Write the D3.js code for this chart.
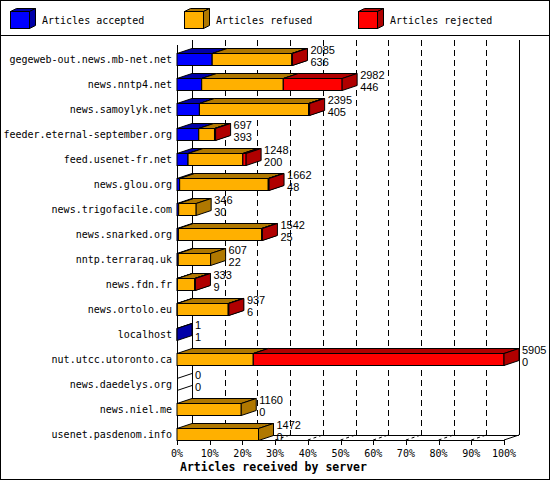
<!DOCTYPE html>
<html><head><meta charset="utf-8">
<script src="https://cdn.jsdelivr.net/npm/d3@7"></script>
<style>body{margin:0;background:#fff}svg{display:block}</style>
</head><body>
<script>
const categories = ["gegeweb-out.news.mb-net.net","news.nntp4.net","news.samoylyk.net","feeder.eternal-september.org","feed.usenet-fr.net","news.glou.org","news.trigofacile.com","news.snarked.org","nntp.terraraq.uk","news.fdn.fr","news.ortolo.eu","localhost","nut.utcc.utoronto.ca","news.daedelys.org","news.niel.me","usenet.pasdenom.info"];
const accepted = [636,446,405,393,200,48,30,25,22,9,6,1,0,0,0,0];
const refused  = [1439,1474,1970,284,990,1601,316,1504,585,309,920,0,1378,0,1160,1472];
const rejected = [10,1062,20,20,58,13,0,13,0,15,11,0,4527,0,0,0];
const totals   = [2085,2982,2395,697,1248,1662,346,1542,607,333,937,1,5905,0,1160,1472];
const seriesNames = ["Articles accepted","Articles refused","Articles rejected"];
const pctTicks = [0,10,20,30,40,50,60,70,80,90,100];
const axisTitle = "Articles received by server";

const W=550,H=480;
const front = ["#0000ff","#ffb000","#ff0000"];
const dark  = ["#0000a8","#b07800","#b00000"];
const DX=15, DY=5;
const mono = "'DejaVu Sans Mono', monospace";

const svg = d3.select("body").append("svg").attr("width",W).attr("height",H);
svg.append("rect").attr("x",0.5).attr("y",0.5).attr("width",W-1).attr("height",H-1).attr("fill","#fff").attr("stroke","#000");
svg.append("line").attr("x1",0).attr("x2",W).attr("y1",35.5).attr("y2",35.5).attr("stroke","#000");

const x = d3.scaleLinear().domain([0, d3.max(totals)]).range([177, 504]);
const xp = d3.scaleLinear().domain([0,100]).range([177, 504]);
const y = d3.scaleBand().domain(categories).range([47,447]).paddingInner(0.52).paddingOuter(0.26);
const bh = y.bandwidth();
const yTop = 40, yFloor = 440;

// back wall grid
const g = svg.append("g").attr("shape-rendering","crispEdges");
g.selectAll("line.grid").data(pctTicks.slice(1,-1)).join("line")
  .attr("x1",d=>Math.round(xp(d)+DX)+0.5).attr("x2",d=>Math.round(xp(d)+DX)+0.5)
  .attr("y1",yTop).attr("y2",yFloor-DY).attr("stroke","#000").attr("stroke-dasharray","6,4");
// back wall edges
[0,100].forEach(v=>{
  g.append("line").attr("x1",Math.round(xp(v)+DX)+0.5).attr("x2",Math.round(xp(v)+DX)+0.5)
   .attr("y1",yTop).attr("y2",yFloor-DY).attr("stroke","#000");
});
g.append("line").attr("x1",xp(0)+DX).attr("x2",xp(100)+DX).attr("y1",yFloor-DY+0.5).attr("y2",yFloor-DY+0.5).attr("stroke","#000");
// floor diagonals
svg.selectAll("line.fd").data(pctTicks.slice(1)).join("line")
  .attr("x1",d=>xp(d)).attr("y1",yFloor).attr("x2",d=>xp(d)+DX).attr("y2",yFloor-DY)
  .attr("stroke","#000").attr("stroke-dasharray",d=>d===100?null:"3,3");
// front axis
g.append("line").attr("x1",177.5).attr("x2",177.5).attr("y1",yTop+5).attr("y2",yFloor).attr("stroke","#000");
g.append("line").attr("x1",xp(0)).attr("x2",xp(100)).attr("y1",yFloor+0.5).attr("y2",yFloor+0.5).attr("stroke","#000");
g.selectAll("line.tk").data(pctTicks).join("line")
  .attr("x1",d=>Math.round(xp(d))+0.5).attr("x2",d=>Math.round(xp(d))+0.5)
  .attr("y1",yFloor).attr("y2",yFloor+5).attr("stroke","#000");
svg.selectAll("text.tk").data(pctTicks).join("text")
  .attr("x",d=>xp(d)).attr("y",457).attr("text-anchor","middle")
  .attr("font-family",mono).attr("font-size",10).text(d=>d+"%");
svg.append("text").attr("x",180).attr("y",471).attr("font-family",mono).attr("font-size",11.5)
  .attr("font-weight","bold").text(axisTitle);

// category labels
svg.selectAll("text.cat").data(categories).join("text")
  .attr("x",172).attr("y",d=>y(d)+bh/2).attr("dy","0.35em").attr("text-anchor","end")
  .attr("font-family",mono).attr("font-size",10).text(d=>d);

// bars
function box(gr,x0,x1,yy,ci){
  gr.append("rect").attr("x",x0).attr("y",yy).attr("width",Math.max(0,x1-x0)).attr("height",bh)
    .attr("fill",front[ci]).attr("stroke","#000");
  gr.append("polygon").attr("points",[[x0,yy],[x0+DX,yy-DY],[x1+DX,yy-DY],[x1,yy]].join(" "))
    .attr("fill",dark[ci]).attr("stroke","#000");
  gr.append("polygon").attr("points",[[x1,yy],[x1+DX,yy-DY],[x1+DX,yy+bh-DY],[x1,yy+bh]].join(" "))
    .attr("fill",dark[ci]).attr("stroke","#000");
}
const bars = svg.append("g").attr("stroke-linejoin","miter");
categories.forEach((c,i)=>{
  const yy = y(c);
  const gr = bars.append("g");
  const vals=[accepted[i],refused[i],rejected[i]];
  let cum=0;
  if(totals[i]===0){
    gr.append("line").attr("x1",x(0)).attr("y1",yy).attr("x2",x(0)+DX).attr("y2",yy-DY).attr("stroke","#000");
    gr.append("line").attr("x1",x(0)).attr("y1",yy+bh).attr("x2",x(0)+DX).attr("y2",yy+bh-DY).attr("stroke","#000");
  } else {
    vals.forEach((v,k)=>{
      if(v<=0) return;
      box(gr,x(cum),x(cum+v),yy,k);
      cum+=v;
    });
  }
  const lx = x(totals[i])+DX+3;
  gr.append("text").attr("x",lx).attr("y",yy+0.5).attr("font-family","'Liberation Sans', Arial, sans-serif")
    .attr("font-size",11).text(totals[i]);
  gr.append("text").attr("x",lx).attr("y",yy+bh).attr("font-family","'Liberation Sans', Arial, sans-serif")
    .attr("font-size",11).text(accepted[i]);
});

// legend
const lg = svg.append("g");
const lx0=[10,184,358];
seriesNames.forEach((n,k)=>{
  const x0=lx0[k]+0.5, y0=11.5, w=19, h=17, dx=6, dy=3;
  lg.append("polygon").attr("points",[[x0,y0],[x0+dx,y0-dy],[x0+w+dx,y0-dy],[x0+w,y0]].join(" ")).attr("fill",dark[k]).attr("stroke","#000");
  lg.append("polygon").attr("points",[[x0+w,y0],[x0+w+dx,y0-dy],[x0+w+dx,y0+h-dy],[x0+w,y0+h]].join(" ")).attr("fill",dark[k]).attr("stroke","#000");
  lg.append("rect").attr("x",x0).attr("y",y0).attr("width",w).attr("height",h).attr("fill",front[k]).attr("stroke","#000");
  lg.append("text").attr("x",lx0[k]+32).attr("y",20).attr("dy","0.35em").attr("font-family",mono).attr("font-size",10).text(n);
});
</script>
</body></html>
